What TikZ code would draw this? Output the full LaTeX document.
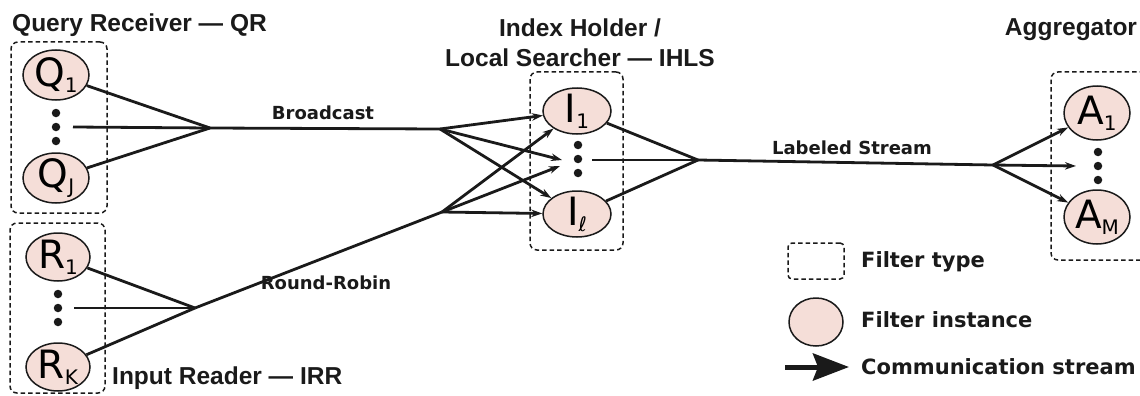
\documentclass[tikz,border=0pt]{standalone}
\usepackage{fontspec}
\usetikzlibrary{shapes.geometric,arrows.meta}
\setmainfont{DejaVu Sans}
\newfontfamily\headfont{Liberation Sans}
\newfontfamily\tagfont{DejaVu Sans}
\newfontfamily\letterfont{DejaVu Sans}
\definecolor{ink}{RGB}{26,26,26}
\definecolor{instfill}{RGB}{245,222,216}
% letter with a lowered index, as printed inside each filter instance
\newcommand\instname[2]{{\letterfont\fontsize{39}{39}\selectfont #1\raisebox{-6pt}{\fontsize{20}{20}\selectfont #2}}}
\begin{document}
\begin{tikzpicture}[x=1pt,y=-1pt,
  inst/.style={ellipse, draw=ink, line width=1.5pt, fill=instfill, inner sep=0pt},
  ftype/.style={draw=ink, dash pattern=on 4.5pt off 3pt, line width=1.5pt, rounded corners=7pt, inner sep=0pt},
  dotmark/.style={circle, fill=ink, inner sep=0pt, minimum size=8.5pt},
  conn/.style={draw=ink, line width=2.8pt},
  flow/.style={conn, -{Stealth[length=11pt,width=7.5pt]}},
  headline/.style={font=\headfont\bfseries\fontsize{24.5}{28}\selectfont, text=ink, inner sep=0pt},
  edgetag/.style={font=\tagfont\bfseries\fontsize{18}{20}\selectfont, text=ink, inner sep=0pt},
  legendtag/.style={font=\tagfont\bfseries\fontsize{21}{24}\selectfont, text=ink, inner sep=0pt, anchor=west}]
\useasboundingbox (0,0) rectangle (1140,396);
\clip (0,0) rectangle (1140,396);

% filter types (dashed boxes)
\node[ftype, minimum width=96pt, minimum height=171pt] (QR) at (59,127.5) {};
\node[ftype, minimum width=95pt, minimum height=170pt] (IRR) at (57.5,308) {};
\node[ftype, minimum width=93pt, minimum height=178pt] (IHLS) at (576.5,161) {};
\node[ftype, minimum width=100pt, minimum height=188pt] (AGG) at (1101,166) {};

% filter instances
\node[inst, minimum width=66pt, minimum height=50pt, label={center:\instname{Q}{1}}] (Q1) at (56,75) {};
\node[inst, minimum width=66pt, minimum height=50pt, label={center:\instname{Q}{J}}] (QJ) at (56,178) {};
\node[inst, minimum width=64pt, minimum height=48pt, label={center:\instname{R}{1}}] (R1) at (58,257) {};
\node[inst, minimum width=64pt, minimum height=48pt, label={center:\instname{R}{K}}] (RK) at (58,367) {};
\node[inst, minimum width=68pt, minimum height=46pt, label={center:\instname{I}{1}}] (I1) at (577,111) {};
\node[inst, minimum width=68pt, minimum height=46pt, label={center:\instname{I}{ℓ}}] (Il) at (577,214) {};
\node[inst, minimum width=66pt, minimum height=54pt, label={center:\instname{A}{1}}] (A1) at (1097,113) {};
\node[inst, minimum width=66pt, minimum height=54pt, label={center:\instname{A}{M}}] (AM) at (1097,217) {};

% vertical ellipses between first and last instance
\foreach \n/\x/\ya/\yb/\yc in {q/56/113/127/141, r/58/294/308/322, i/578/145/159/173, a/1098/152/166/180}{
  \node[dotmark] (\n d1) at (\x,\ya) {};
  \node[dotmark] (\n d2) at (\x,\yb) {};
  \node[dotmark] (\n d3) at (\x,\yc) {};
}

% junctions and free ends
\coordinate (qj) at (210,128);
\coordinate (rj) at (195,308);
\coordinate (bj) at (440,129);
\coordinate (rr) at (442,212);
\coordinate (ij) at (698,160);
\coordinate (aj) at (993,165);
\coordinate (qm) at (73,127);
\coordinate (rm) at (74,308);
\coordinate (im) at (592,160);
\coordinate (id1) at (562,160);
\coordinate (id2) at (560,166);
\coordinate (ad) at (1076,166);

% query receivers -> broadcast
\draw[conn] (Q1) -- (qj);
\draw[conn] (qm) -- (qj);
\draw[conn] (QJ) -- (qj);
\draw[conn] (qj) -- (bj);
\draw[flow] (bj) -- (I1);
\draw[flow] (bj) -- (id1);
\draw[flow] (bj) -- (Il);

% input readers -> round-robin
\draw[conn] (R1) -- (rj);
\draw[conn] (rm) -- (rj);
\draw[conn] (RK) -- (rj);
\draw[conn] (rj) -- (rr);
\draw[flow] (rr) -- (I1);
\draw[flow] (rr) -- (id2);
\draw[flow] (rr) -- (Il);

% index holders -> labeled stream -> aggregators
\draw[conn] (I1) -- (ij);
\draw[conn] (im) -- (ij);
\draw[conn] (Il) -- (ij);
\draw[conn] (ij) -- (aj);
\draw[flow] (aj) -- (A1);
\draw[flow] (aj) -- (ad);
\draw[flow] (aj) -- (AM);

% stream labels
\node[edgetag] (tb) at (323,113) {Broadcast};
\node[edgetag] (tr) at (326,283) {Round-Robin};
\node[edgetag] (tl) at (852,148) {Labeled Stream};

% filter titles
\node[headline, anchor=west] (hqr) at (12,25) {Query Receiver — QR};
\node[headline, anchor=west] (hirr) at (112,378) {Input Reader — IRR};
\node[headline] (hih1) at (580,28) {Index Holder /};
\node[headline] (hih2) at (580,58) {Local Searcher — IHLS};
\node[headline] (hagg) at (1071,30) {Aggregator};

% legend
\node[ftype, rounded corners=4pt, minimum width=56pt, minimum height=36pt] (lbox) at (816,261) {};
\node[legendtag] (lt1) at (861,262) {Filter type};
\node[inst, minimum width=54pt, minimum height=48pt] (lell) at (816,322) {};
\node[legendtag] (lt2) at (861,320) {Filter instance};
\coordinate (la) at (785,367);
\coordinate (lb) at (849,367);
\draw[draw=ink, line width=5pt, -{Stealth[length=36pt,width=27pt,inset=5pt]}] (la) -- (lb);
\node[legendtag] (lt3) at (861,367) {Communication stream};
\end{tikzpicture}
\end{document}
